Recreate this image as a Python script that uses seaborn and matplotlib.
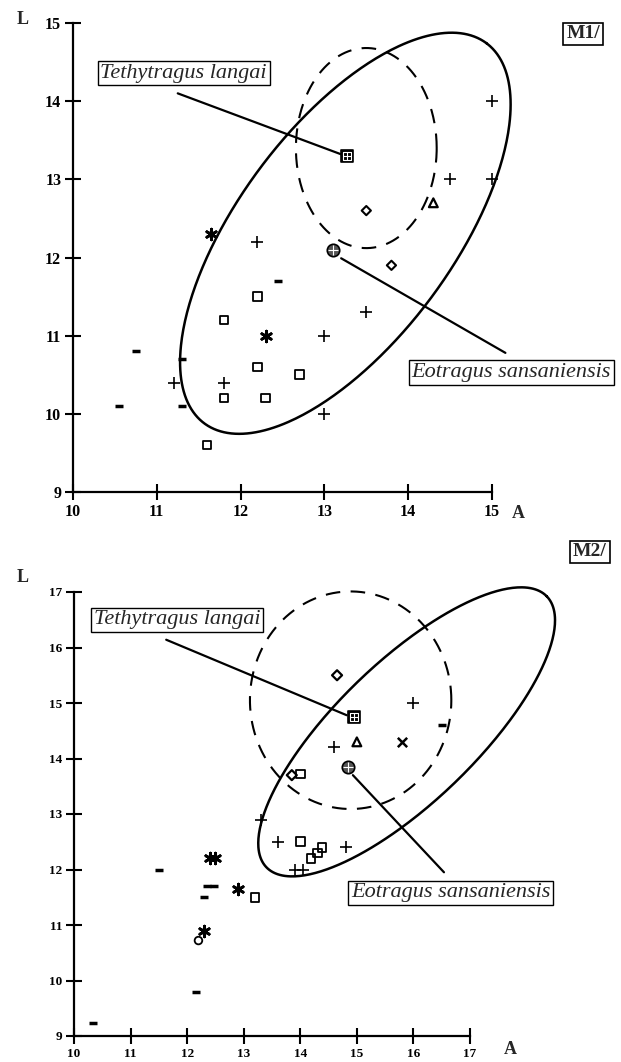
import numpy as np
import pandas as pd
import matplotlib
matplotlib.use("Agg")
import matplotlib.pyplot as plt
import seaborn as sns

# ---------------- data : M1 panel ----------------
m1_plus_x = [15.0, 14.5, 15.0, 12.2, 13.0, 13.5, 11.2, 11.8, 13.0]
m1_plus_y = [14.0, 13.0, 13.0, 12.2, 11.0, 11.3, 10.4, 10.4, 10.0]
m1_square_x = [11.8, 12.2, 12.2, 12.7, 11.8, 12.3, 11.6]
m1_square_y = [11.2, 11.5, 10.6, 10.5, 10.2, 10.2, 9.6]
m1_diamond_x = [13.5, 13.8]
m1_diamond_y = [12.6, 11.9]
m1_triangle_x = [14.3]
m1_triangle_y = [12.7]
m1_star_x = [11.65, 12.3]
m1_star_y = [12.3, 11.0]
m1_dash_x = [12.45, 10.75, 11.3, 10.55, 11.3]
m1_dash_y = [11.7, 10.8, 10.7, 10.1, 10.1]
m1_tethy = (13.27, 13.3)
m1_eotr = (13.1, 12.1)

# ---------------- data : M2 panel ----------------
m2_plus_x = [16.0, 14.6, 13.3, 13.6, 14.8, 13.9, 14.05]
m2_plus_y = [15.0, 14.2, 12.9, 12.5, 12.4, 12.0, 12.0]
m2_square_x = [14.0, 14.0, 14.38, 14.3, 14.19, 13.2]
m2_square_y = [13.72, 12.5, 12.4, 12.3, 12.2, 11.5]
m2_diamond_x = [14.65, 13.85]
m2_diamond_y = [15.5, 13.7]
m2_triangle_x = [15.0]
m2_triangle_y = [14.3]
m2_cross_x = [15.8]
m2_cross_y = [14.3]
m2_dash_x = [16.5, 11.5, 12.35, 12.48, 12.3, 12.15, 10.33]
m2_dash_y = [14.6, 12.0, 11.7, 11.7, 11.5, 9.8, 9.23]
m2_star_x = [12.4, 12.5, 12.9, 12.3]
m2_star_y = [12.2, 12.2, 11.65, 10.9]
m2_circle_x = [12.2]
m2_circle_y = [10.72]
m2_tethy = (14.95, 14.75)
m2_eotr = (14.85, 13.85)

m1_xticks = [10, 11, 12, 13, 14, 15]
m1_yticks = [9, 10, 11, 12, 13, 14, 15]
m2_xticks = [10, 11, 12, 13, 14, 15, 16, 17]
m2_yticks = [9, 10, 11, 12, 13, 14, 15, 16, 17]

sns.set_theme(style="white")
plt.rcParams['font.family'] = ['Liberation Serif', 'DejaVu Serif']

W, H = 621, 1062
fig = plt.figure(figsize=(W / 100, H / 100), dpi=100)


def fx(px):
    return px / W


def fy(py):
    return 1 - py / H


ax1 = fig.add_axes([fx(73), fy(492), (492 - 73) / W, (492 - 23) / H])
ax2 = fig.add_axes([fx(74), fy(1036), (470 - 74) / W, (1036 - 592) / H])


def scatter(ax, xs, ys, marker, size, open_=True, lw=1.2, fc='black', ec='black', z=3):
    df = pd.DataFrame({'x': xs, 'y': ys})
    kw = dict(data=df, x='x', y='y', ax=ax, marker=marker, s=size, linewidth=lw,
              zorder=z, legend=False, clip_on=False)
    if marker in ('+', 'x', '_', '|') or isinstance(marker, tuple):
        kw['color'] = 'black'
    elif open_:
        kw['facecolor'] = 'none'
        kw['edgecolor'] = ec
    else:
        kw['color'] = fc
        kw['edgecolor'] = ec
    sns.scatterplot(**kw)


def species(ax, tethy, eotr):
    # Tethytragus: black square with white grid
    scatter(ax, [tethy[0]], [tethy[1]], 's', 70, open_=False, fc='black', z=5)
    scatter(ax, [tethy[0]], [tethy[1]], 's', 28, open_=True, ec='white', lw=0.8, z=6)
    sns.scatterplot(x=[tethy[0]], y=[tethy[1]], ax=ax, marker='+', s=40, color='white',
                    linewidth=0.8, zorder=7, legend=False)
    # Eotragus: grey circle with grid
    scatter(ax, [eotr[0]], [eotr[1]], 'o', 80, open_=False, fc='#555555', ec='black', z=5)
    sns.scatterplot(x=[eotr[0]], y=[eotr[1]], ax=ax, marker='+', s=55, color='white',
                    linewidth=0.8, zorder=7, legend=False)


def ellipse(ax, c, u, v, **kw):
    t = np.linspace(0, 2 * np.pi, 400)
    x = c[0] + u[0] * np.cos(t) + v[0] * np.sin(t)
    y = c[1] + u[1] * np.cos(t) + v[1] * np.sin(t)
    ax.plot(x, y, color='black', clip_on=False, zorder=2, **kw)


def label_box(ax, x, y, text):
    ax.text(x, y, text, ha='center', va='center', fontsize=16, style='italic',
            family=['Liberation Serif'], clip_on=False, zorder=8,
            bbox=dict(boxstyle='square,pad=0.12', fc='white', ec='black', lw=1.0))


def style_axes(ax, xlim, ylim, xt, yt, fs):
    ax.set_xlim(*xlim)
    ax.set_ylim(*ylim)
    ax.set_xticks(xt)
    ax.set_yticks(yt)
    ax.set_xticklabels([str(v) for v in xt], fontweight='bold', fontsize=fs)
    ax.set_yticklabels([str(v) for v in yt], fontweight='bold', fontsize=fs)
    for s in ('top', 'right'):
        ax.spines[s].set_visible(False)
    for s in ('left', 'bottom'):
        ax.spines[s].set_linewidth(1.6)
        ax.spines[s].set_color('black')
    ax.tick_params(axis='both', which='major', bottom=True, left=True, top=False, right=False,
                   direction='inout', length=11, width=1.5, colors='black', pad=3)
    ax.set_xlabel('')
    ax.set_ylabel('')
    ax.patch.set_alpha(0)


# ---------------- M1 ----------------
scatter(ax1, m1_plus_x, m1_plus_y, '+', 70, lw=1.2)
scatter(ax1, m1_square_x, m1_square_y, 's', 38, lw=1.3)
scatter(ax1, m1_diamond_x, m1_diamond_y, 'D', 22, lw=1.5)
scatter(ax1, m1_triangle_x, m1_triangle_y, '^', 40, lw=1.6)
scatter(ax1, m1_star_x, m1_star_y, (6, 2, 0), 60, lw=2.0)
scatter(ax1, m1_dash_x, m1_dash_y, '_', 30, lw=2.5)
species(ax1, m1_tethy, m1_eotr)

ellipse(ax1, (13.25, 12.31), (1.682, 2.433), (-1.03, 0.815), lw=1.8)
ellipse(ax1, (13.5, 13.4), (0.84, 0.0), (0.0, 1.28), lw=1.5, linestyle=(0, (7, 5)))

ax1.plot([11.25, 13.2], [14.1, 13.32], color='black', lw=1.6, clip_on=False, zorder=4)
ax1.plot([13.2, 15.16], [11.99, 10.78], color='black', lw=1.6, clip_on=False, zorder=4)
label_box(ax1, 11.32, 14.36, 'Tethytragus langai')
label_box(ax1, 15.23, 10.53, 'Eotragus sansaniensis')
style_axes(ax1, (10, 15), (9, 15), m1_xticks, m1_yticks, 11.5)

# ---------------- M2 ----------------
scatter(ax2, m2_plus_x, m2_plus_y, '+', 70, lw=1.2)
scatter(ax2, m2_square_x, m2_square_y, 's', 38, lw=1.3)
scatter(ax2, m2_diamond_x, m2_diamond_y, 'D', 26, lw=1.6)
scatter(ax2, m2_triangle_x, m2_triangle_y, '^', 40, lw=1.6)
scatter(ax2, m2_cross_x, m2_cross_y, 'x', 45, lw=1.8)
scatter(ax2, m2_dash_x, m2_dash_y, '_', 30, lw=2.5)
scatter(ax2, m2_star_x, m2_star_y, (6, 2, 0), 60, lw=2.0)
scatter(ax2, m2_circle_x, m2_circle_y, 'o', 30, lw=1.3)
species(ax2, m2_tethy, m2_eotr)

ellipse(ax2, (15.88, 14.48), (2.478, 2.441), (-0.86, 0.907), lw=1.8)
ellipse(ax2, (14.89, 15.05), (1.78, 0.0), (0.0, 1.96), lw=1.5, linestyle=(0, (7, 5)))

ax2.plot([11.63, 14.82], [16.14, 14.78], color='black', lw=1.6, clip_on=False, zorder=4)
ax2.plot([14.93, 16.54], [13.7, 11.95], color='black', lw=1.6, clip_on=False, zorder=4)
label_box(ax2, 11.82, 16.5, 'Tethytragus langai')
label_box(ax2, 16.66, 11.58, 'Eotragus sansaniensis')
style_axes(ax2, (10, 17), (9, 17), m2_xticks, m2_yticks, 9.5)

# ---------------- panel labels ----------------
for (px, py, t) in [(583, 34, 'M1/'), (590, 552, 'M2/')]:
    fig.text(fx(px), fy(py), t, ha='center', va='center', fontsize=14, fontweight='bold',
             bbox=dict(boxstyle='square,pad=0.15', fc='white', ec='black', lw=1.2))
for (px, py, t) in [(23, 20, 'L'), (518, 513, 'A'), (23, 578, 'L'), (510, 1050, 'A')]:
    fig.text(fx(px), fy(py), t, ha='center', va='center', fontsize=13, fontweight='bold')

fig.savefig('out.png', dpi=100, facecolor='white')
